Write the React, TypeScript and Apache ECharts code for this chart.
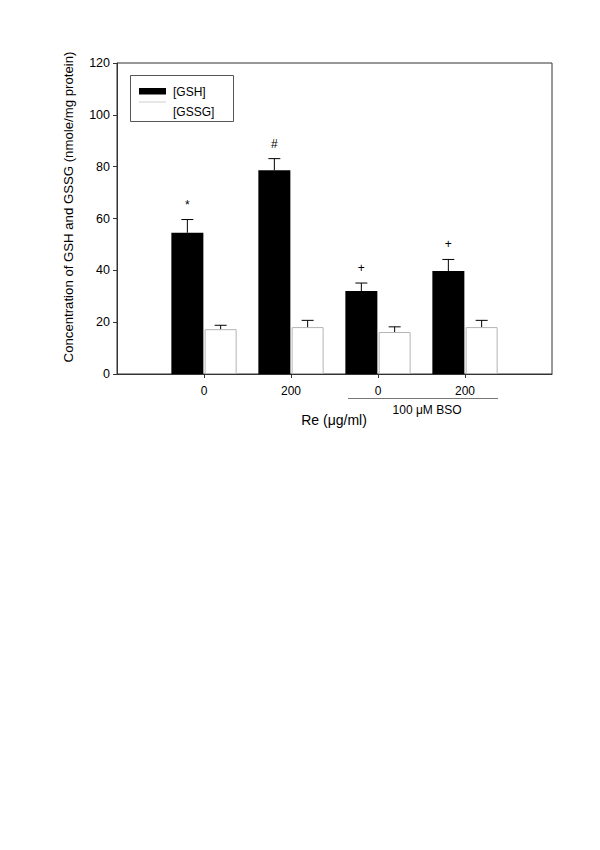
import React, { useEffect, useRef } from "react";
import * as echarts from "echarts";

const categories = ["", "0", "200", "0", "200", ""];
const yTicks = { min: 0, max: 120, interval: 20 };
const gshMean = [54.5, 78.6, 32.0, 39.7];
const gshSem = [5.1, 4.5, 3.1, 4.5];
const gssgMean = [17.3, 18.1, 16.2, 18.1];
const gssgSem = [1.5, 2.6, 2.0, 2.6];
const gshMarks = ["*", "#", "+", "+"];
const seriesNames = ["[GSH]", "[GSSG]"];
const yTitle = "Concentration of GSH and GSSG (nmole/mg protein)";
const xTitle = "Re (\u03bcg/ml)";
const bsoLabel = "100 \u03bcM BSO";

const FONT = "'Liberation Sans', Arial, sans-serif";
const BAR_W = 32;
const GAP = 1.3;
const OFF = (BAR_W + GAP) / 2;

const pad = (arr: number[]) => ["-", ...arr, "-"];

export default function App() {
  const ref = useRef<HTMLDivElement>(null);
  useEffect(() => {
    document.body.style.margin = "0";
    const chart = echarts.init(ref.current!, null, { renderer: "svg" });

    const errData = (means: number[], sems: number[]) =>
      means.map((m, i) => [i + 1, m, sems[i]]);

    const makeErr = (offset: number, marks: string[] | null) =>
      (params: any, api: any) => {
        const x = api.value(0);
        const m = api.value(1);
        const s = api.value(2);
        const top = api.coord([x, m]);
        const et = api.coord([x, m + s]);
        const cx = top[0] + offset;
        const children: any[] = [
          { type: "line", shape: { x1: cx, y1: top[1], x2: cx, y2: et[1] }, style: { stroke: "#000", lineWidth: 1 } },
          { type: "line", shape: { x1: cx - 6, y1: et[1], x2: cx + 6, y2: et[1] }, style: { stroke: "#000", lineWidth: 1 } },
        ];
        if (marks) {
          children.push({
            type: "text",
            x: cx,
            y: et[1] - 15,
            style: { text: marks[params.dataIndex], fill: "#000", font: `12px ${FONT}`, align: "center", verticalAlign: "middle" },
          });
        }
        return { type: "group", children };
      };

    chart.setOption({
      animation: false,
      backgroundColor: "#fff",
      grid: { left: 117, top: 63, width: 435, height: 311, show: true, borderColor: "#333", borderWidth: 1, backgroundColor: "transparent" },
      xAxis: {
        type: "category",
        data: categories,
        boundaryGap: false,
        axisLine: { lineStyle: { color: "#333", width: 1 } },
        axisTick: { show: true, length: 4, interval: (i: number) => i >= 1 && i <= 4, lineStyle: { color: "#333" } },
        axisLabel: { interval: 0, color: "#000", fontSize: 12, fontFamily: FONT, margin: 11 },
        splitLine: { show: false },
      },
      yAxis: {
        type: "value",
        min: yTicks.min,
        max: yTicks.max,
        interval: yTicks.interval,
        axisLine: { show: true, lineStyle: { color: "#333", width: 1 } },
        axisTick: { show: true, length: 4, lineStyle: { color: "#333" } },
        axisLabel: { color: "#000", fontSize: 12.5, fontFamily: FONT, margin: 7 },
        splitLine: { show: false },
      },
      series: [
        {
          name: seriesNames[0],
          type: "bar",
          data: pad(gshMean),
          barWidth: BAR_W,
          barGap: "4%",
          itemStyle: { color: "#000" },
        },
        {
          name: seriesNames[1],
          type: "bar",
          data: pad(gssgMean),
          barWidth: BAR_W,
          itemStyle: { color: "#fff", borderColor: "#b5b5b5", borderWidth: 1 },
        },
        {
          type: "custom",
          data: errData(gshMean, gshSem),
          encode: { x: 0, y: 1 },
          renderItem: makeErr(-OFF, gshMarks),
          z: 5,
        },
        {
          type: "custom",
          data: errData(gssgMean, gssgSem),
          encode: { x: 0, y: 1 },
          renderItem: makeErr(OFF, null),
          z: 5,
        },
      ],
      graphic: [
        { type: "rect", shape: { x: 130.5, y: 75.5, width: 103, height: 46 }, style: { fill: "#fff", stroke: "#555", lineWidth: 1 }, z: 10 },
        { type: "rect", shape: { x: 139, y: 88, width: 27, height: 6.5 }, style: { fill: "#000" }, z: 11 },
        { type: "text", x: 173, y: 91.5, style: { text: seriesNames[0], font: `12px ${FONT}`, fill: "#000", verticalAlign: "middle" }, z: 11 },
        { type: "line", shape: { x1: 139, y1: 102, x2: 166, y2: 102 }, style: { stroke: "#cfcfcf", lineWidth: 1 }, z: 11 },
        { type: "text", x: 173, y: 111.5, style: { text: seriesNames[1], font: `12px ${FONT}`, fill: "#000", verticalAlign: "middle" }, z: 11 },
        { type: "text", x: 68, y: 207, rotation: Math.PI / 2, style: { text: yTitle, font: `13.2px ${FONT}`, fill: "#000", align: "center", verticalAlign: "middle" } },
        { type: "text", x: 334, y: 420, style: { text: xTitle, font: `14px ${FONT}`, fill: "#000", align: "center", verticalAlign: "middle" } },
        { type: "line", shape: { x1: 348, y1: 398.5, x2: 498, y2: 398.5 }, style: { stroke: "#777", lineWidth: 1 } },
        { type: "text", x: 427, y: 410, style: { text: bsoLabel, font: `12px ${FONT}`, fill: "#000", align: "center", verticalAlign: "middle" } },
      ],
    });
    return () => chart.dispose();
  }, []);
  return <div ref={ref} style={{ width: 600, height: 850 }} />;
}
